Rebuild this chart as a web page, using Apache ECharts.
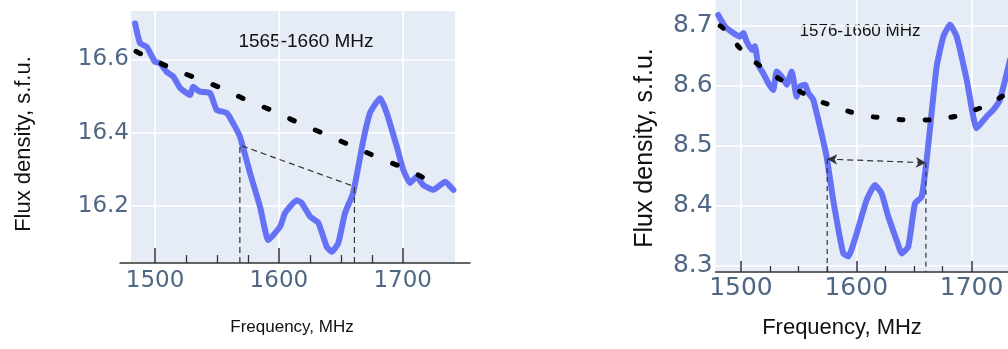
<!DOCTYPE html>
<html>
<head>
<meta charset="utf-8">
<script src="https://cdn.jsdelivr.net/npm/echarts@6/dist/echarts.min.js"></script>
<style>html,body{margin:0;padding:0;background:#fff;}#c{width:1008px;height:349px;}</style>
</head>
<body>
<div id="c"></div>
<script>
// ---- data ----
const xTickMajor = [1500, 1600, 1700];
const xTickMinor = [1525, 1550, 1575, 1625, 1650, 1675];
const leftYTicks = [16.2, 16.4, 16.6];
const rightYTicks = [8.3, 8.4, 8.5, 8.6, 8.7];

const leftCurve = [[1483.9,16.698],[1487.9,16.644],[1493.3,16.634],[1500,16.593],[1504,16.590],[1509.4,16.566],[1514.8,16.553],[1520.2,16.522],[1528.3,16.503],[1530.7,16.525],[1536.3,16.512],[1544.4,16.508],[1549.8,16.462],[1557.9,16.454],[1563,16.426],[1568.6,16.389],[1576.7,16.290],[1584.8,16.198],[1591.5,16.107],[1601,16.144],[1605,16.181],[1614.4,16.216],[1618.5,16.208],[1625.2,16.171],[1631.9,16.154],[1638.6,16.089],[1642.7,16.075],[1648,16.099],[1653.4,16.181],[1659.9,16.235],[1668.2,16.380],[1673.6,16.454],[1681.7,16.494],[1687.1,16.454],[1695.2,16.362],[1700.5,16.298],[1705.9,16.263],[1711.3,16.280],[1716.6,16.257],[1724.7,16.244],[1734.2,16.266],[1740.9,16.244]];
const leftTrend = [[1484.7,16.622],[1487.9,16.616],[1510.5,16.580],[1533.7,16.548],[1553.9,16.521],[1574,16.489],[1596.9,16.457],[1617.1,16.425],[1638.6,16.394],[1660.1,16.362],[1681.7,16.330],[1703.2,16.300],[1723.4,16.266],[1727,16.261]];
const leftBand = [[1568.5,16.0445],[1568.5,16.366],[1661,16.253],[1661,16.0445]];
const leftLabel = '1565-1660 MHz';

const rightCurve = [[1480.3,8.718],[1486.1,8.699],[1493.3,8.688],[1499.1,8.682],[1502,8.688],[1504.9,8.674],[1509.3,8.660],[1512.1,8.666],[1515,8.635],[1519.3,8.621],[1523.7,8.6045],[1528,8.593],[1531,8.624],[1535.3,8.6155],[1539.6,8.602],[1544,8.624],[1548.3,8.582],[1551.2,8.599],[1555.5,8.602],[1558.4,8.588],[1562.7,8.577],[1568.5,8.532],[1574.3,8.482],[1580,8.410],[1588.7,8.321],[1593.1,8.316],[1600.3,8.354],[1609,8.410],[1616.2,8.435],[1622,8.421],[1627.8,8.382],[1635,8.343],[1639.4,8.321],[1645.1,8.332],[1650.9,8.404],[1656.7,8.4155],[1661.1,8.477],[1669.7,8.632],[1675.5,8.682],[1681.3,8.702],[1687.1,8.682],[1695.8,8.610],[1704.4,8.5295],[1713.1,8.549],[1718.8,8.560],[1724.6,8.577],[1733.3,8.643]];
const rightTrend = [[1482,8.700],[1486.1,8.693],[1500.6,8.660],[1519.3,8.6295],[1539.6,8.6045],[1559.8,8.582],[1581.5,8.5655],[1604.7,8.552],[1627.8,8.546],[1650.9,8.543],[1675.5,8.546],[1698.6,8.557],[1721.8,8.577],[1735,8.595]];
const rightBandL = [[1574.8,8.29],[1574.8,8.478]];
const rightBandR = [[1660.4,8.472],[1660.4,8.29]];
const rightArrow = [[1574.8,8.478],[1660.4,8.472]];
const rightLabel = '1576-1660 MHz';

const yTitle = 'Flux density, s.f.u.';
const xTitle = 'Frequency, MHz';

// ---- styles ----
const BG = '#e5ecf6';
const BLUE = '#6672f5';
const TICKC = '#506784';
const AX = '#333';

function mainX(grid, min, max, len, fs, margin) {
  return {
    gridIndex: grid, type: 'value', min: min, max: max,
    axisLine: { show: grid === 1, onZero: false, lineStyle: { color: AX, width: 1.5 } },
    axisTick: { show: true, inside: true, length: len, customValues: xTickMajor, lineStyle: { color: AX, width: 1.5 } },
    axisLabel: { customValues: xTickMajor, margin: margin, fontSize: fs, fontFamily: 'DejaVu Sans', color: TICKC, formatter: v => String(v) },
    splitLine: { show: true, lineStyle: { color: '#fff', width: 1.6 } }
  };
}
function minorX(grid, min, max, len) {
  return {
    gridIndex: grid, type: 'value', min: min, max: max, position: 'bottom',
    axisLine: { show: false },
    axisTick: { show: true, inside: true, length: len, customValues: xTickMinor, lineStyle: { color: AX, width: 1.3 } },
    axisLabel: { show: false },
    splitLine: { show: false }
  };
}

const option = {
  animation: false,
  grid: [
    { left: 131, top: 11, width: 324, height: 252, show: true, backgroundColor: BG, borderWidth: 0, containLabel: false, outerBoundsMode: 'none' },
    { left: 715.7, top: 0, width: 330, height: 272, show: true, backgroundColor: BG, borderWidth: 0, containLabel: false, outerBoundsMode: 'none' },
    { left: 120, top: 11, width: 350, height: 252, containLabel: false, outerBoundsMode: 'none' }
  ],
  xAxis: [
    mainX(0, 1480.6, 1742.2, 15, 23, 7),
    minorX(0, 1480.6, 1742.2, 8),
    mainX(1, 1478.1, 1764.3, 11, 25, 4),
    minorX(1, 1478.1, 1764.3, 6),
    { gridIndex: 2, type: 'value', min: 0, max: 1,
      axisLine: { show: true, lineStyle: { color: AX, width: 1.5 } },
      axisTick: { show: false }, axisLabel: { show: false }, splitLine: { show: false } }
  ],
  yAxis: [
    { gridIndex: 0, type: 'value', min: 16.0445, max: 16.732,
      axisLine: { show: false }, axisTick: { show: false, customValues: leftYTicks },
      axisLabel: { customValues: leftYTicks, margin: 2, fontSize: 23, fontFamily: 'DejaVu Sans', color: TICKC, formatter: v => v.toFixed(1) },
      splitLine: { show: true, lineStyle: { color: '#fff', width: 1.6 } } },
    { gridIndex: 1, type: 'value', min: 8.29, max: 8.743,
      axisLine: { show: false }, axisTick: { show: false, customValues: rightYTicks },
      axisLabel: { customValues: rightYTicks, margin: 3, fontSize: 25, fontFamily: 'DejaVu Sans', color: TICKC, formatter: v => v.toFixed(1) },
      splitLine: { show: true, lineStyle: { color: '#fff', width: 1.6 } } },
    { gridIndex: 2, type: 'value', min: 0, max: 1, show: false }
  ],
  series: [
    { type: 'line', xAxisIndex: 0, yAxisIndex: 0, data: leftCurve, showSymbol: false, smooth: 0.15,
      lineStyle: { color: BLUE, width: 6, join: 'round', cap: 'round' }, z: 3 },
    { type: 'line', xAxisIndex: 0, yAxisIndex: 0, data: leftTrend, showSymbol: false, smooth: true,
      lineStyle: { color: '#000', width: 5, type: [5, 23], cap: 'round', dashOffset: 0 }, z: 4 },
    { type: 'line', xAxisIndex: 0, yAxisIndex: 0, data: leftBand, showSymbol: false,
      lineStyle: { color: '#333', width: 1.2, type: [6, 4] }, z: 5 },
    { type: 'line', xAxisIndex: 2, yAxisIndex: 1, data: rightCurve, showSymbol: false, smooth: 0.15,
      lineStyle: { color: BLUE, width: 6, join: 'round', cap: 'round' }, z: 3 },
    { type: 'line', xAxisIndex: 2, yAxisIndex: 1, data: rightTrend, showSymbol: false, smooth: true,
      lineStyle: { color: '#000', width: 5, type: [4, 22], cap: 'round' }, z: 4 },
    { type: 'line', xAxisIndex: 2, yAxisIndex: 1, data: rightBandL, showSymbol: false,
      lineStyle: { color: '#333', width: 1.2, type: [5, 4] }, z: 5 },
    { type: 'line', xAxisIndex: 2, yAxisIndex: 1, data: rightBandR, showSymbol: false,
      lineStyle: { color: '#333', width: 1.2, type: [5, 4] }, z: 5 },
    { type: 'line', xAxisIndex: 2, yAxisIndex: 1, data: [], showSymbol: false, z: 5,
      markLine: { silent: true, symbol: ['arrow', 'arrow'], symbolSize: [8, 10], label: { show: false },
        lineStyle: { color: '#333', width: 1.2, type: [6, 4] },
        data: [[{ coord: rightArrow[0] }, { coord: rightArrow[1] }]] } }
  ],
  graphic: [
    { type: 'text', x: 24, y: 144, rotation: Math.PI / 2,
      style: { text: yTitle, font: '22px "Liberation Sans"', fill: '#111', textAlign: 'center', textVerticalAlign: 'middle' } },
    { type: 'text', x: 292, y: 327,
      style: { text: xTitle, font: '17px "Liberation Sans"', fill: '#111', textAlign: 'center', textVerticalAlign: 'middle' } },
    { type: 'text', x: 306, y: 42,
      style: { text: leftLabel, font: '19px "Liberation Sans"', fill: '#111', textAlign: 'center', textVerticalAlign: 'middle' } },
    { type: 'text', x: 645, y: 148, rotation: Math.PI / 2,
      style: { text: yTitle, font: '25px "Liberation Sans"', fill: '#111', textAlign: 'center', textVerticalAlign: 'middle' } },
    { type: 'text', x: 842, y: 328,
      style: { text: xTitle, font: '22px "Liberation Sans"', fill: '#111', textAlign: 'center', textVerticalAlign: 'middle' } },
    { type: 'text', x: 860, y: 31,
      style: { text: rightLabel, font: '17px "Liberation Sans"', fill: '#111', textAlign: 'center', textVerticalAlign: 'middle' } }
  ]
};
const chart = echarts.init(document.getElementById('c'), null, { renderer: 'canvas' });
chart.setOption(option);
</script>
</body>
</html>
